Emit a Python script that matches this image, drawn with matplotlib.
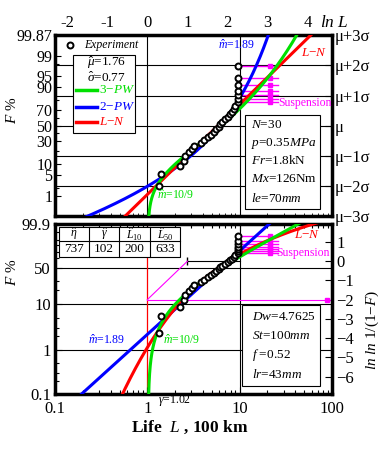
from statistics import NormalDist

import matplotlib
matplotlib.use('Agg')
import matplotlib.pyplot as plt
import numpy as np
from matplotlib.patches import Rectangle

plt.rcParams['font.family'] = ['Liberation Serif', 'DejaVu Serif']
plt.rcParams['mathtext.fontset'] = 'custom'
plt.rcParams['mathtext.rm'] = 'Liberation Serif'
plt.rcParams['mathtext.it'] = 'Liberation Serif:italic'
plt.rcParams['mathtext.bf'] = 'Liberation Serif:bold'

# failure data: life in 100 km, ordered; ranks i = 1..30 (median ranks)
life = [1.33, 1.41, 2.28, 2.48, 2.59, 2.81, 3.06, 3.19, 3.8, 4.1,
        4.5, 4.9, 5.3, 5.6, 6.0, 6.2, 6.5, 6.9, 7.4, 7.8,
        8.2, 8.6, 9.0, 9.55, 9.6, 9.62, 9.65, 9.6, 9.62, 9.7]
n_total = 30
susp_ranks = [24, 25, 26, 27, 28, 29, 30]
susp_start = 10.0
susp_end = 26.0
susp_mark = 21.5

# fitted parameters
ln_mu, ln_sigma = 1.76, 0.77
w2_m, w2_eta = 1.89, 7.5
w3_m, w3_gamma, w3_eta = 10 / 9, 1.02, 7.37

top_ticks_F = [99.87, 99, 95, 90, 70, 50, 30, 10, 5, 1]
top_minor_F = [98, 80, 60, 40, 20, 2]
sig_labels = ['\u03bc\u22123\u03c3', '\u03bc\u22122\u03c3', '\u03bc\u22121\u03c3', '\u03bc',
              '\u03bc+1\u03c3', '\u03bc+2\u03c3', '\u03bc+3\u03c3']
bot_ticks_F = [99.9, 50, 10, 1, 0.1]
bot_minor_F = [99, 95, 90, 80, 70, 30, 20, 5, 3, 2, 0.5, 0.3, 0.2]
table_head = [r'$\hat{\eta}$', r'$\hat{\gamma}$', r'$\hat{L}_{10}$', r'$\hat{L}_{50}$']
table_vals = ['737', '102', '200', '633']

nd = NormalDist()


def zval(F):
    F = np.clip(np.atleast_1d(F), 1e-15, 1 - 1e-15)
    return np.array([nd.inv_cdf(f) for f in F])


def wval(F):
    F = np.clip(np.asarray(F, dtype=float), 1e-15, 1 - 1e-15)
    return np.log(-np.log(1 - F))


ranks = np.arange(1, n_total + 1)
F_exp = (ranks - 0.3) / (n_total + 0.4)
F_susp = F_exp[np.array(susp_ranks) - 1]

L = np.logspace(-1, 2, 600)
F_ln = np.array([nd.cdf((np.log(x) - ln_mu) / ln_sigma) for x in L])
F_w2 = 1 - np.exp(-(L / w2_eta) ** w2_m)
L3 = w3_gamma + np.logspace(-5, 2, 600)
F_w3 = 1 - np.exp(-((L3 - w3_gamma) / w3_eta) ** w3_m)

BLUE, RED, GREEN, MAG = '#0000ff', '#ff0000', '#00e000', '#ff00ff'
MK = dict(ms=4.3, mfc='white', mec='black', mew=1.4)

fig = plt.figure(figsize=(3.87, 4.49), dpi=100)
ax1 = fig.add_axes([0.1421, 0.5189, 0.7158, 0.4031])
ax2 = fig.add_axes([0.1421, 0.1225, 0.7158, 0.3786])

# ---------------- top panel: normal probability ----------------
ax1.set_xscale('log')
ax1.set_xlim(0.1, 100)
ax1.set_ylim(-3, 3)
for z in [-2, -1, 0, 1, 2]:
    ax1.axhline(z, color='black', lw=0.8, zorder=1)
for xv in [1, 10]:
    ax1.axvline(xv, color='black', lw=0.8, zorder=1)

ax1.plot(L, zval(F_w2), color=BLUE, lw=2.2, zorder=3)
ax1.plot(L, zval(F_ln), color=RED, lw=2.2, zorder=3)
ax1.plot(L3, zval(F_w3), color=GREEN, lw=2.2, zorder=3)
for zs in zval(F_susp):
    ax1.plot([susp_start, susp_end], [zs, zs], color=MAG, lw=1.0, zorder=2)
    ax1.plot([susp_mark], [zs], 's', color=MAG, ms=3, zorder=2)
ax1.plot(life, zval(F_exp), 'o', zorder=5, **MK)

ax1.text(25.9, 0.74, 'Suspension', color=MAG, fontsize=8.5, va='center', zorder=6)
ax1.text(46, 2.4, '$L$\u2212$N$', color=RED, fontsize=9.5, va='center', zorder=6)
ax1.text(5.77, 2.67, r'$\hat{m}$=1.89', color=BLUE, fontsize=8.5, va='center', zorder=6)
ax1.text(1.28, -2.3, r'$\hat{m}$=10/9', color=GREEN, fontsize=8.5, va='center', zorder=6)

ax1.set_yticks(zval(np.array(top_ticks_F) / 100))
ax1.set_yticklabels([f'{v:g}' for v in top_ticks_F])
ax1.set_yticks(zval(np.array(top_minor_F) / 100), minor=True)
ax1.set_xticks([])
ax1.tick_params(axis='both', which='both', direction='in', labelsize=11.5)
ax1.tick_params(axis='x', which='both', top=False, labelbottom=False)
ax1.tick_params(axis='y', which='major', length=4, width=0.8, pad=2)
ax1.tick_params(axis='y', which='minor', length=3, width=0.8)

sec1 = ax1.secondary_yaxis('right')
sec1.set_yticks(range(-3, 4))
sec1.set_yticklabels(sig_labels)
sec1.tick_params(direction='in', length=5, labelsize=12, pad=2)
sec1.spines['right'].set_visible(False)

top1 = ax1.secondary_xaxis('top')
top1.set_xticks(np.exp(np.arange(-2, 5)))
top1.set_xticklabels([str(k) for k in range(-2, 5)])
top1.xaxis.set_minor_locator(matplotlib.ticker.NullLocator())
top1.tick_params(length=0, labelsize=12, pad=3)
top1.spines['top'].set_visible(False)

# legend box
ax1.plot([0.054], [0.945], 'o', transform=ax1.transAxes, zorder=6, **MK)
ax1.text(0.105, 0.945, 'Experiment', style='italic', fontsize=8.5, va='center',
         transform=ax1.transAxes, zorder=6)
ax1.add_patch(Rectangle((0.065, 0.459), 0.224, 0.431, transform=ax1.transAxes,
                        facecolor='white', edgecolor='black', lw=0.8, zorder=4))
ax1.text(0.115, 0.845, r'$\hat{\mu}$=1.76', fontsize=9.5, va='center',
         transform=ax1.transAxes, zorder=6)
ax1.text(0.115, 0.762, r'$\hat{\sigma}$=0.77', fontsize=9.5, va='center',
         transform=ax1.transAxes, zorder=6)
for yy, col, lab in [(0.696, GREEN, '3\u2212$PW$'), (0.602, BLUE, '2\u2212$PW$'),
                     (0.519, RED, '$L$\u2212$N$')]:
    ax1.plot([0.076, 0.152], [yy, yy], color=col, lw=2.5, transform=ax1.transAxes, zorder=6)
    ax1.text(0.16, yy, lab, color=col, fontsize=9.5, va='center',
             transform=ax1.transAxes, zorder=6)

# condition box
ax1.add_patch(Rectangle((0.686, 0.039), 0.271, 0.519, transform=ax1.transAxes,
                        facecolor='white', edgecolor='black', lw=0.8, zorder=4))
for yy, txt in [(0.503, '$N$=30'), (0.403, '$p$=0.35$MPa$'), (0.304, '$Fr$=1.8kN'),
                (0.204, '$Mx$=126Nm'), (0.099, '$le$=70$mm$')]:
    ax1.text(0.706, yy, txt, fontsize=9.5, va='center', transform=ax1.transAxes, zorder=6)

# ---------------- bottom panel: Weibull probability ----------------
ax2.set_xscale('log')
ax2.set_xlim(0.1, 100)
ax2.set_ylim(wval(0.001), wval(0.999))
for fv in [0.5, 0.1, 0.01]:
    ax2.axhline(wval(fv), color='black', lw=0.8, zorder=1)
ax2.axvline(10, color='black', lw=0.8, zorder=1)
ax2.axvline(1, color=RED, lw=0.9, zorder=1)
ax2.plot([np.e, 10], [0, 0], color='black', lw=0.8, zorder=1)
ax2.plot([np.e], [0], '|', color='black', ms=6, zorder=1)
ax2.plot([1, np.e], [-2, 0], color=MAG, lw=0.8, zorder=1)
ax2.plot([1, 100], [-2, -2], color=MAG, lw=0.8, zorder=1)
ax2.plot([88], [-2], 's', color=MAG, ms=3, zorder=1)

ax2.plot(L, wval(F_w2), color=BLUE, lw=2.2, zorder=3)
ax2.plot(L, wval(F_ln), color=RED, lw=2.2, zorder=3)
ax2.plot(L3, wval(F_w3), color=GREEN, lw=2.2, zorder=3)
for ys in wval(F_susp):
    ax2.plot([susp_start, susp_end], [ys, ys], color=MAG, lw=1.0, zorder=2)
    ax2.plot([susp_mark], [ys], 's', color=MAG, ms=3, zorder=2)
ax2.plot(life, wval(F_exp), 'o', zorder=5, **MK)

ax2.text(24.7, 0.42, 'Suspension', color=MAG, fontsize=8.5, va='center', zorder=6)
ax2.text(38.7, 1.35, '$L$\u2212$N$', color=RED, fontsize=9.5, va='center', zorder=6)
ax2.text(0.229, -4.11, r'$\hat{m}$=1.89', color=BLUE, fontsize=8.5, va='center', zorder=6)
ax2.text(1.49, -4.11, r'$\hat{m}$=10/9', color=GREEN, fontsize=8.5, va='center', zorder=6)

ax2.set_yticks(wval(np.array(bot_ticks_F) / 100))
ax2.set_yticklabels([f'{v:g}' for v in bot_ticks_F])
ax2.set_yticks(wval(np.array(bot_minor_F) / 100), minor=True)
ax2.set_xticks([0.1, 1, 10, 100])
ax2.set_xticklabels(['0.1', '1', '10', '100'])
ax2.tick_params(axis='both', which='both', direction='in', labelsize=12, top=True)
ax2.tick_params(axis='both', which='major', length=5, width=0.8, pad=3)
ax2.tick_params(axis='x', which='major', pad=5)
ax2.tick_params(axis='both', which='minor', length=3, width=0.8)

sec2 = ax2.secondary_yaxis('right')
sec2.set_yticks(range(-6, 2))
sec2.set_yticklabels([str(k).replace('-', '\u2212') for k in range(-6, 2)])
sec2.tick_params(direction='in', length=5, labelsize=12, pad=3)
sec2.spines['right'].set_visible(False)

# estimate table
tx = [0.0144, 0.123, 0.231, 0.343, 0.451]
ty = [0.804, 0.902, 0.982]
ax2.add_patch(Rectangle((tx[0], ty[0]), tx[-1] - tx[0], ty[-1] - ty[0], transform=ax2.transAxes,
                        facecolor='white', edgecolor='black', lw=0.8, zorder=4))
ax2.plot([tx[0], tx[-1]], [ty[1], ty[1]], color='black', lw=0.8, transform=ax2.transAxes, zorder=5)
for xv in tx[1:-1]:
    ax2.plot([xv, xv], [ty[0], ty[-1]], color='black', lw=0.8, transform=ax2.transAxes, zorder=5)
for k in range(4):
    xc = (tx[k] + tx[k + 1]) / 2
    ax2.text(xc, (ty[1] + ty[2]) / 2, table_head[k], fontsize=8.5, ha='center', va='center',
             transform=ax2.transAxes, zorder=6)
    ax2.text(xc, (ty[0] + ty[1]) / 2, table_vals[k], fontsize=9.5, ha='center', va='center',
             transform=ax2.transAxes, zorder=6)

# bearing box
ax2.add_patch(Rectangle((0.675, 0.047), 0.282, 0.477, transform=ax2.transAxes,
                        facecolor='white', edgecolor='black', lw=0.8, zorder=4))
for yy, txt in [(0.455, '$Dw$=4.7625'), (0.341, '$St$=100$mm$'), (0.229, '$f$ =0.52'),
                (0.112, '$lr$=43$mm$')]:
    ax2.text(0.71, yy, txt, fontsize=9.5, va='center', transform=ax2.transAxes, zorder=6)

for ax in (ax1, ax2):
    for sp in ax.spines.values():
        sp.set_linewidth(2.5)

# figure-level labels
fig.text(0.03, 0.755, '$F$ %', rotation=90, fontsize=11, ha='center', va='center')
fig.text(0.03, 0.394, '$F$ %', rotation=90, fontsize=11, ha='center', va='center')
fig.text(0.961, 0.265, '$ln$ $ln$ 1/(1\u2212$F$)', rotation=90, fontsize=11,
         ha='center', va='center')
fig.text(0.827, 0.949, '$ln$ $L$', fontsize=12.5, va='center')
fig.text(0.408, 0.107, r'$\hat{\gamma}$=1.02', fontsize=8.5, va='center')
fig.text(0.49, 0.049, r'Life  $L$ , 100 km', fontsize=12.5, fontweight='bold',
         ha='center', va='center')

fig.savefig('out.png', dpi=100)
